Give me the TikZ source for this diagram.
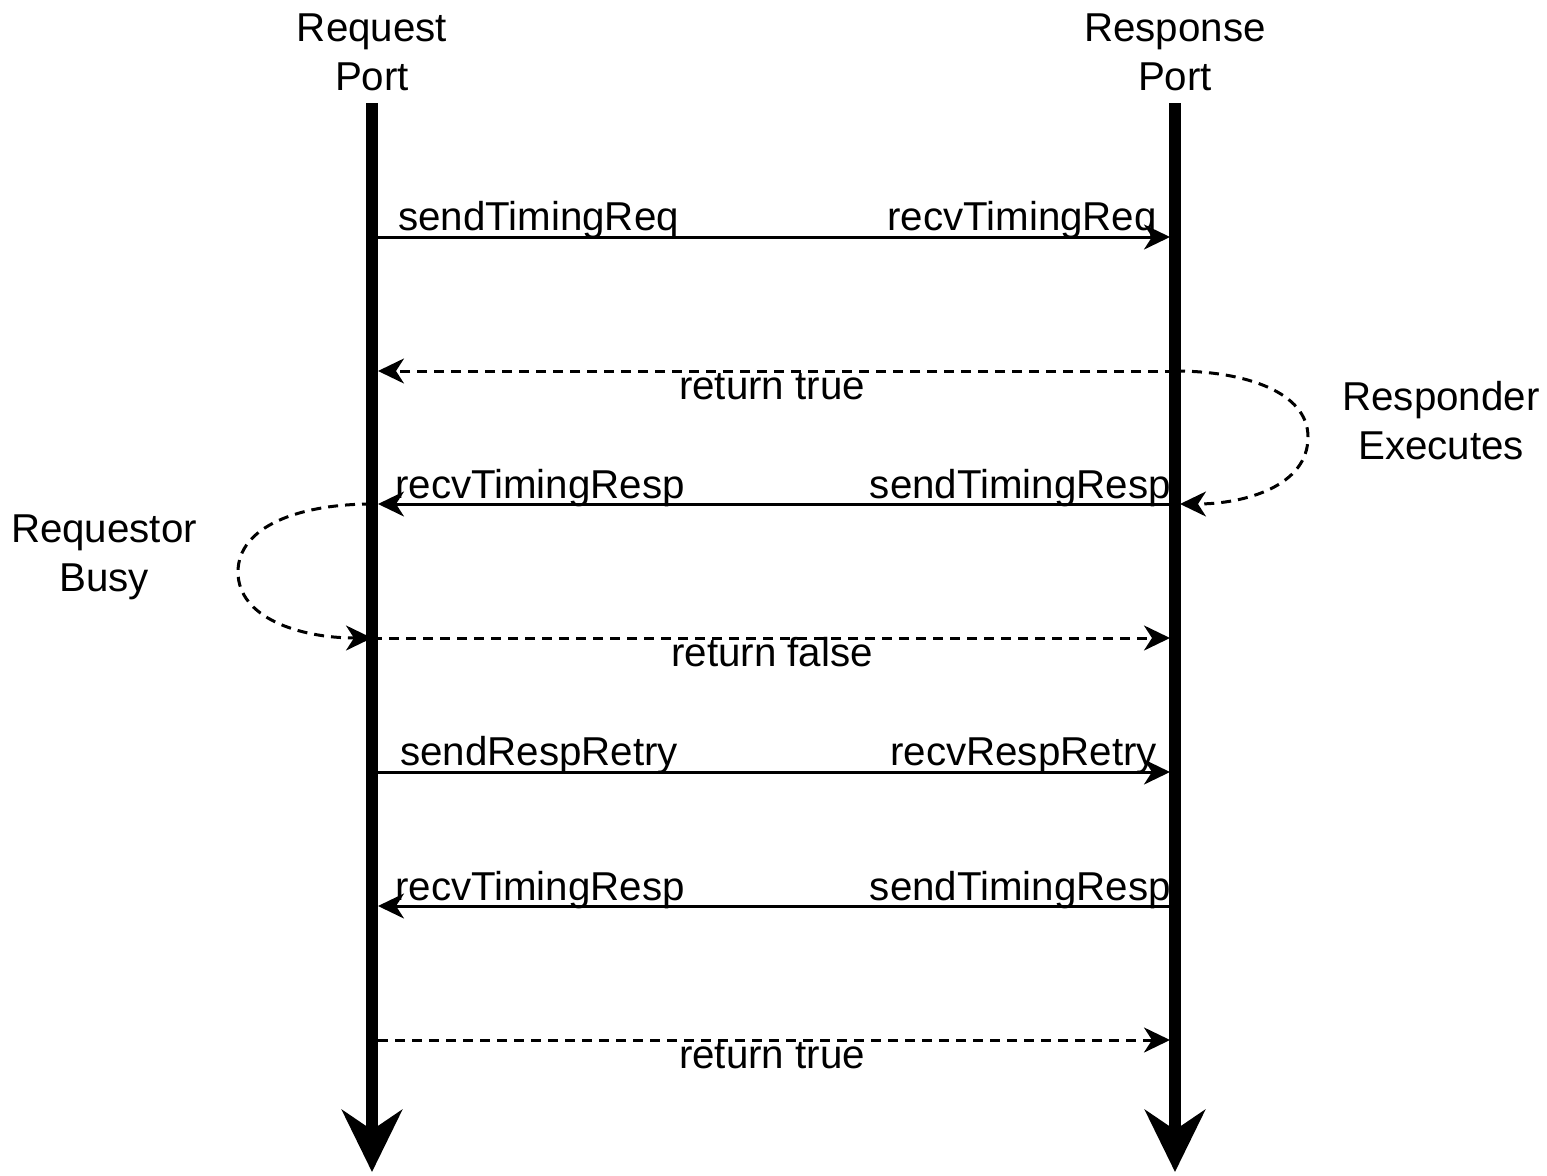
\documentclass[tikz,border=0pt]{standalone}
\usepackage{fontspec}
\setmainfont{Liberation Sans}
\usetikzlibrary{arrows.meta}
\begin{document}
\begin{tikzpicture}[x=1pt,y=-1pt,
  txt/.style={inner sep=0pt,font=\fontsize{40.3}{49}\selectfont},
  head/.style={txt,align=center},
  lifeline/.style={line width=12pt,-{Stealth[length=62pt,width=60pt,inset=20pt]}},
  msg/.style={line width=3pt,-{Stealth[length=26pt,width=25pt,inset=8pt]}},
  ret/.style={msg,dash pattern=on 10pt off 7pt}]
\useasboundingbox (0,0) rectangle (1547,1175);

% lifelines
\node[head] (reqport) at (372,52) {Request\\Port};
\node[head] (rspport) at (1175,52) {Response\\Port};
\coordinate (reqtop) at (372,103);
\coordinate (reqbot) at (372,1172);
\coordinate (rsptop) at (1175,103);
\coordinate (rspbot) at (1175,1172);
\draw[lifeline] (reqtop) -- (reqbot);
\draw[lifeline] (rsptop) -- (rspbot);

% message end points
\coordinate (a1) at (378,237);  \coordinate (b1) at (1170,237);
\coordinate (a2) at (378,371);  \coordinate (b2) at (1175,371);
\coordinate (a3) at (378,504);  \coordinate (b3) at (1175,504);
\coordinate (b3r) at (1180,504);
\coordinate (a4) at (372,638);  \coordinate (b4) at (1170,638);
\coordinate (a4l) at (372,504);
\coordinate (a5) at (378,772);  \coordinate (b5) at (1170,772);
\coordinate (a6) at (378,906);  \coordinate (b6) at (1175,906);
\coordinate (a7) at (378,1040); \coordinate (b7) at (1170,1040);

% timing request
\draw[msg] (a1) -- (b1);
\node[txt,anchor=base west] (l1a) at (398,230) {sendTimingReq};
\node[txt,anchor=base east] (l1b) at (1157,230) {recvTimingReq};

% accepted
\draw[ret] (b2) -- (a2);
\node[txt,anchor=base] (l2) at (772,399) {return true};

% responder loop
\draw[ret] (b2) .. controls (1245,371) and (1308,392) .. (1308,437)
  .. controls (1308,486) and (1245,504) .. (b3r);
\node[head] (resp) at (1441,421) {Responder\\Executes};

% timing response
\draw[msg] (b3) -- (a3);
\node[txt,anchor=base west] (l3a) at (395,498) {recvTimingResp};
\node[txt,anchor=base east] (l3b) at (1171,498) {sendTimingResp};

% requestor loop
\draw[ret] (a4l) .. controls (300,504) and (238,526) .. (238,572)
  .. controls (238,618) and (300,638) .. (a4);
\node[head] (busy) at (104,557) {Requestor\\Busy};

% rejected
\draw[ret] (a4) -- (b4);
\node[txt,anchor=base] (l4) at (772,666) {return false};

% retry
\draw[msg] (a5) -- (b5);
\node[txt,anchor=base west] (l5a) at (400,765) {sendRespRetry};
\node[txt,anchor=base east] (l5b) at (1157,765) {recvRespRetry};

% second timing response
\draw[msg] (b6) -- (a6);
\node[txt,anchor=base west] (l6a) at (395,900) {recvTimingResp};
\node[txt,anchor=base east] (l6b) at (1171,900) {sendTimingResp};

% accepted
\draw[ret] (a7) -- (b7);
\node[txt,anchor=base] (l7) at (772,1068) {return true};
\end{tikzpicture}
\end{document}
